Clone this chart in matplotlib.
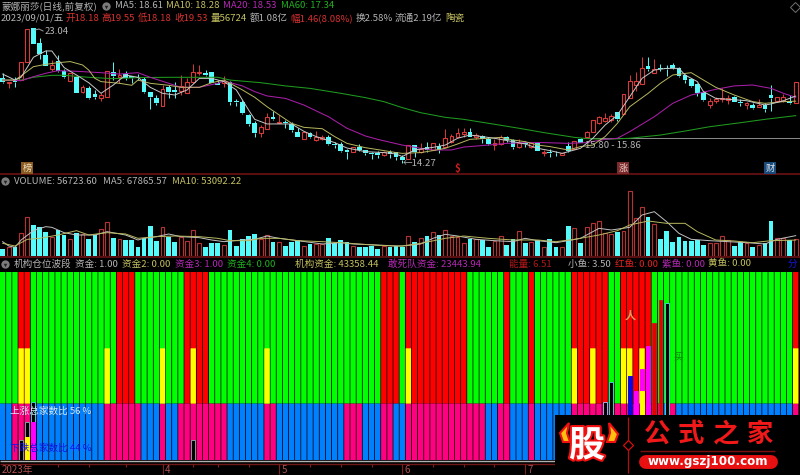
import matplotlib
matplotlib.use('Agg')
import matplotlib.pyplot as plt
import matplotlib.patheffects as pe

plt.rcParams['font.family'] = ['Noto Sans CJK SC', 'DejaVu Sans']

W, H = 800, 475

# 日K线
opens = [19.76,19.44,19.65,19.65,20.80,23.00,22.04,21.28,20.35,20.89,
         20.24,19.61,19.87,18.90,19.16,18.75,18.46,18.57,20.15,19.83,
         20.04,19.92,19.87,19.70,18.90,18.49,17.99,19.18,19.01,18.96,
         18.83,19.55,20.09,20.09,20.15,19.48,19.44,19.55,18.31,18.23,
         17.40,16.88,16.19,16.47,17.23,16.84,16.95,16.80,16.30,15.85,
         16.24,15.76,15.80,15.98,15.50,15.48,15.11,14.98,15.33,15.11,
         14.94,14.94,14.78,15.00,14.96,14.68,14.50,15.41,14.98,15.33,
         15.11,15.37,15.33,15.65,15.98,16.15,16.28,15.93,16.04,15.80,
         15.46,15.50,15.98,15.76,15.28,15.59,15.28,15.54,14.94,14.98,
         14.94,14.81,15.39,15.15,15.80,15.93,16.28,16.88,17.01,17.06,
         17.56,17.43,18.46,19.33,19.40,20.56,20.13,20.46,20.41,20.61,
         20.43,20.00,19.70,19.40,18.90,18.03,18.31,18.42,18.38,18.57,
         18.23,18.05,18.05,17.92,18.01,18.68,18.29,18.31,18.31,18.18]
highs = [20.09,19.55,19.83,20.80,22.95,23.04,22.36,21.60,20.95,21.28,
         20.35,20.09,19.92,19.33,19.27,19.01,18.79,20.26,20.80,20.37,
         20.26,19.92,20.04,19.83,18.90,18.68,19.33,19.33,19.55,19.98,
         19.76,20.67,20.63,20.30,20.20,19.65,19.92,19.59,18.40,18.36,
         17.45,17.01,16.73,17.49,17.66,17.38,17.06,16.95,16.52,16.37,
         16.30,16.34,16.08,16.08,15.65,15.65,15.15,15.28,15.50,15.11,
         14.98,15.02,15.07,15.11,15.00,14.78,15.43,15.43,15.54,15.65,
         15.54,15.59,16.45,16.15,16.52,16.56,16.52,16.19,16.08,15.98,
         15.80,16.08,16.04,15.80,15.85,15.67,15.65,15.63,15.11,15.15,
         15.07,14.94,15.65,15.72,15.87,16.37,17.06,17.32,17.49,17.45,
         17.60,18.72,19.98,20.20,21.13,21.13,21.00,20.69,20.61,20.78,
         20.52,20.04,19.72,19.44,18.96,18.46,18.53,19.11,18.70,18.62,
         18.40,18.23,18.18,18.44,18.14,19.33,18.57,18.72,18.68,19.55]
lows = [19.44,19.11,19.18,19.65,20.80,21.99,21.00,20.59,20.26,20.20,
        19.76,19.61,18.79,18.83,18.42,18.42,18.29,18.57,19.65,19.48,
        19.65,19.48,19.65,18.83,17.75,18.03,17.99,18.46,18.46,18.68,
        18.79,19.44,19.98,19.92,19.44,19.31,19.18,18.03,17.97,17.45,
        16.67,15.93,15.98,16.47,17.06,16.84,16.52,16.30,15.93,15.85,
        15.87,15.72,15.76,15.43,15.22,14.98,14.55,14.98,15.07,14.78,
        14.55,14.59,14.72,14.57,14.46,14.27,14.50,14.68,14.89,15.00,
        15.11,14.94,15.28,15.59,15.93,15.98,15.93,15.80,15.54,15.41,
        15.11,15.43,15.65,15.20,15.24,15.28,15.22,15.02,14.72,14.63,
        14.72,14.81,15.00,15.15,15.54,15.87,16.28,16.80,16.95,16.95,
        17.01,17.43,18.46,18.96,19.40,20.26,20.09,20.24,19.92,20.37,
        19.83,19.48,19.22,18.62,18.31,17.82,18.14,18.25,18.07,18.23,
        17.97,17.75,17.75,17.88,17.58,17.66,18.23,18.25,18.10,18.18]
closes = [19.55,19.55,19.50,20.80,22.95,21.99,21.34,20.59,20.63,20.24,
          19.87,20.09,18.83,19.22,18.51,18.53,18.68,20.26,19.92,19.98,
          19.81,19.81,19.76,18.90,18.53,18.14,19.05,18.88,18.85,19.27,
          19.55,20.20,20.17,19.98,19.44,19.35,19.59,18.25,18.25,17.49,
          16.80,16.19,16.62,17.27,17.10,16.95,16.84,16.41,15.98,16.26,
          15.93,15.93,15.98,15.50,15.41,15.07,15.00,15.28,15.11,14.89,
          14.85,14.76,14.98,14.85,14.68,14.46,15.43,15.00,15.15,15.11,
          15.54,15.11,15.87,16.02,16.24,16.28,15.98,16.08,15.80,15.48,
          15.54,15.98,15.76,15.28,15.54,15.48,15.59,15.07,15.00,14.91,
          14.89,14.94,15.07,15.72,15.59,16.30,17.06,17.27,17.17,17.34,
          17.10,18.72,19.59,19.59,20.46,20.37,20.35,20.35,20.37,20.41,
          19.92,19.65,19.27,18.83,18.36,18.31,18.42,18.46,18.51,18.25,
          18.14,18.14,17.82,18.03,17.75,18.46,18.53,18.57,18.14,19.53]

# 均线(从图上读的点)
ma5_idx = [0,2,3,5,7,8,9,10,12,14,16,18,20,22,24,26,28,30,32,34,
           36,38,40,41,43,45,47,49,51,54,56,59,62,64,65,67,70,72,74,76,
           78,80,83,85,87,89,91,94,96,98,100,102,104,106,108,110,111,113,114,116,
           118,121,124,125,127,129]
ma5 = [20.04,19.65,19.83,21.13,21.54,21.54,21.00,20.46,19.98,19.48,
       18.79,19.33,19.98,19.83,19.18,18.79,18.68,19.01,19.76,19.76,
       19.55,19.01,17.71,17.10,16.80,16.80,16.80,16.32,15.98,15.59,
       15.24,15.00,14.94,14.85,14.68,15.11,15.28,15.43,15.87,16.08,
       15.98,15.87,15.65,15.50,15.22,15.07,14.89,15.22,15.87,16.73,
       17.38,18.57,19.76,20.30,20.41,20.41,19.98,19.55,18.90,18.46,
       18.40,18.31,18.03,18.10,18.31,18.61]
ma10_idx = [0,2,3,5,7,9,11,13,14,15,16,19,21,22,24,27,29,32,34,36,
            39,41,43,45,47,49,52,54,56,59,62,64,65,68,70,72,74,76,79,81,
            83,85,87,89,92,94,96,98,100,102,105,107,109,112,114,116,119,122,124,127,129]
ma10 = [19.65,19.65,19.92,20.52,20.67,20.78,20.85,20.63,20.30,19.76,
        19.55,19.44,19.31,19.65,19.44,19.31,19.18,19.18,19.48,19.65,
        19.01,18.53,17.92,17.38,16.84,16.58,16.49,15.98,15.54,15.26,
        15.07,14.94,14.89,14.94,15.07,15.22,15.50,15.80,15.87,15.93,
        15.76,15.65,15.43,15.33,15.11,15.33,15.43,15.98,16.84,17.92,
        18.79,19.44,19.98,20.13,19.65,19.18,18.68,18.25,18.14,18.25,18.28]
ma20_idx = [0,3,5,7,9,12,16,19,22,24,27,29,32,35,36,39,41,43,46,49,
            53,56,59,61,65,68,70,73,75,79,82,85,88,92,95,98,100,102,106,109,
            112,116,119,122,125,127,129]
ma20 = [19.65,19.61,19.87,20.09,20.26,20.22,20.13,20.04,20.13,19.83,
        19.44,19.18,19.18,19.44,19.59,19.27,18.90,18.62,18.46,18.03,
        17.27,16.52,16.02,15.80,15.43,15.22,15.11,15.11,15.30,15.43,
        15.54,15.59,15.59,15.54,15.59,15.80,15.87,16.30,17.27,18.14,
        18.68,19.05,19.27,19.33,19.11,18.79,18.53]
ma60_idx = [0,3,5,8,10,14,18,22,27,31,35,37,42,46,50,55,59,62,65,68,
            72,75,80,84,88,93,95,98,102,107,111,115,120,124,129]
ma60 = [19.65,19.65,19.83,19.96,19.96,19.83,19.74,19.81,19.83,19.83,
        19.83,19.65,19.48,19.27,19.11,18.79,18.51,18.25,17.86,17.53,
        17.23,17.10,16.78,16.52,16.24,15.93,15.85,15.80,15.87,16.08,
        16.34,16.62,16.88,17.10,17.34]

# 成交量
vol = [23350,31140,28910,75620,131220,102300,95630,81180,64500,86740,
       70060,55600,77840,73390,55600,70060,88960,112310,60050,55600,
       53380,53380,31140,58940,100080,51150,95630,62270,47820,64500,
       50040,86740,44480,31140,42260,42260,36700,86740,33360,55600,
       66720,73390,55600,70060,47820,47820,33360,45590,53380,33360,
       40030,40030,40030,58940,42260,53380,47820,33360,31140,28910,
       33360,23350,33360,28910,33360,
       31140,66720,46700,58940,66720,
       81180,70060,86740,66720,62270,
       44480,55600,55600,53380,28910,
       51150,66720,37810,57820,82290,
       44480,47820,53380,28910,55600,
       31140,31140,100080,92300,42260,
       95630,111200,116760,75620,73390,
       80060,84510,217950,125660,162350,
       128990,106750,57820,82290,47820,
       64500,51150,51150,53380,36700,
       44480,44480,66720,53380,33360,
       47820,42260,31140,36700,42260,
       117870,58940,58940,53380,56724]
vma5_idx = [0,1,2,3,5,7,8,10,12,14,15,17,20,22,23,25,27,29,32,34,
            36,39,41,43,45,48,52,55,57,61,64,65,68,70,72,74,77,80,83,85,
            87,90,92,94,97,99,102,104,106,108,110,112,115,118,121,124,126,129]
vma5 = [47820,33360,28910,53380,84510,97860,95630,77840,70060,70060,
        70060,81180,70060,53380,58940,64500,73390,64500,61160,53380,
        47820,53380,55600,66720,58940,51150,40030,44480,40030,36700,
        33360,33360,40030,58940,72280,66720,55600,51150,47820,58940,
        51150,44480,51150,58940,92300,86740,95630,136780,147900,114540,
        75620,55600,51150,47820,44480,40030,55600,67866]
vma10_idx = [0,2,4,6,9,12,14,17,20,22,25,28,32,35,37,40,42,45,48,52,
             55,58,61,64,65,68,72,75,79,83,87,90,93,97,100,102,105,108,111,113,
             116,119,122,125,129]
vma10 = [42260,33360,55600,58940,70060,84510,70060,77840,73390,58940,
         64500,66720,64500,58940,51150,51150,58940,58940,51150,47820,
         44480,40030,35580,33360,33360,42260,58940,66720,58940,53380,
         53380,47820,55600,70060,84510,103420,116760,108980,108980,81180,
         53380,50040,44480,51150,53092]

# 机构仓位波段
red_idx = [3,4,19,20,21,30,31,32,33,62,63,64,66,67,68,69,70,71,72,73,74,75,82,86,
           93,94,95,96,97,98,101,102,103,104,105,129]
yellow_idx = [3,4,17,26,31,43,66,93,96,101,102,104,129]
pink_idx = [2,3,4,5,17,18,19,20,21,22,26,29,30,31,32,33,34,35,36,43,44,56,57,58,62,63,
            66,67,68,69,70,71,72,73,74,75,76,77,78,81,82,86,93,94,95,96,97,98,99,100,
            101,102,103,104,105,106,107,109,129]
band_top, band_split, band_yellow = 100, 30, 59.4
over_idx = [3,4,4,5,5,31,98,99,102,103,104,104,105,106,107,108]
over_bottom = [0,12.4,0,20.4,0,0,0,0,0,0,36.7,0,0,0,0,0]
over_top = [10.6,20.4,12.4,31,20.4,10.6,31,41.7,44.7,36.7,48.4,36.7,60.6,72.7,85,83.3]
over_color = ['#000000','#000000','#ffff00','#000000','#ff00ff','#000000','#000000','#000000',
              '#0808e0','#ff00ff','#ff00ff','#ffff00','#ff00ff','#e80000','#e80000','#000000']
over_edge = ['#8a9aa0','#8a9aa0','#ffff00','#40d0d0','#ff00ff','#8a9aa0','#b0a0e0','#40d0d0',
             '#0808e0','#ff00ff','#ff00ff','#ffff00','#ff00ff','#c02020','#c02020','#40d0d0']

tick_idx = [9,14,20,26,31,35,40,45,50,55,60,65,70,75,80,85]
month_idx = [26,45,65,85]
month_labels = ['4','5','6','7']

n = len(closes)
xs = list(range(n))
x_lim = (-0.434, 129.7)
bg = '#000000'
up = '#d83a3a'
down = '#55fbfb'


def panel(top, bottom):
    ax = fig.add_axes([0, 1 - bottom / H, 1, (bottom - top) / H], facecolor=bg)
    ax.set_xlim(*x_lim)
    ax.set_axis_off()
    return ax


fig = plt.figure(figsize=(8, 4.75), dpi=100, facecolor=bg)

# K线图
ax1 = panel(0, 174)
ax1.set_ylim(13.55, 24.85)
for i in xs:
    o, h, l, c = opens[i], highs[i], lows[i], closes[i]
    col = up if c >= o else down
    ax1.vlines(i, max(o, c), h, color=col, lw=0.7, zorder=2)
    ax1.vlines(i, l, min(o, c), color=col, lw=0.7, zorder=2)
    if c >= o:
        ax1.bar(i, c - o, bottom=o, width=0.62, facecolor=bg, edgecolor=col, lw=0.8, zorder=2)
    else:
        ax1.bar(i, o - c, bottom=c, width=0.76, color=col, lw=0, zorder=2)
ax1.plot(ma60_idx, ma60, color='#1f9a1f', lw=0.75, zorder=3)
ax1.plot(ma20_idx, ma20, color='#a81ea8', lw=0.75, zorder=3)
ax1.plot(ma10_idx, ma10, color='#b8b860', lw=0.7, zorder=3)
ax1.plot(ma5_idx, ma5, color='#c8c8c8', lw=0.7, zorder=3)
ax1.hlines(15.86, 94.5, x_lim[1], color='#8c8c8c', lw=0.7, zorder=1)

# 成交量
ax2 = panel(174, 256)
ax2.set_ylim(0, 273552)
for i in xs:
    if closes[i] >= opens[i]:
        ax2.bar(i, vol[i], width=0.62, facecolor=bg, edgecolor='#b03434', lw=0.85)
    else:
        ax2.bar(i, vol[i], width=0.76, color=down, lw=0)
ax2.plot(vma5_idx, vma5, color='#c0c0c0', lw=0.7)
ax2.plot(vma10_idx, vma10, color='#b8b860', lw=0.7)

# 色块指标,snap关掉让缝隙宽度一致
ax3 = panel(272, 460)
ax3.set_ylim(0, band_top)
for i in xs:
    top_col = '#ff0000' if i in red_idx else '#00ff00'
    low_col = '#ff0080' if i in pink_idx else '#0080ff'
    ax3.bar(i, band_top - band_split, bottom=band_split, width=0.88, color=top_col, lw=0, snap=False)
    ax3.bar(i, band_split, width=0.88, color=low_col, lw=0, snap=False)
    if i in yellow_idx:
        ax3.bar(i, band_yellow - band_split, bottom=band_split, width=0.88, color='#ffff00', lw=0, snap=False)
for i, b, t_, c, e in zip(over_idx, over_bottom, over_top, over_color, over_edge):
    ax3.bar(i, t_ - b, bottom=b, width=0.62, facecolor=c, edgecolor=e, lw=0.7, zorder=3)

# 时间轴
ax4 = panel(460, 475)
ax4.set_ylim(475, 460)
ax4.hlines(460.5, *x_lim, color='#b0b0b0', lw=1)
ax4.hlines(464, *x_lim, color='#701818', lw=1)
ax4.vlines(tick_idx, 464, 467, color='#802020', lw=0.8)
ax4.vlines(month_idx, 464, 474, color='#802020', lw=0.8)
for i, s in zip(month_idx, month_labels):
    ax4.text(i + 0.4, 470, s, color='#b05050', fontsize=7, va='center')
ax4.text(-0.1, 470, '2023年', color='#b05050', fontsize=7, va='center')

# 叠加层:文字和装饰,用像素坐标
ov = fig.add_axes([0, 0, 1, 1], facecolor='none')
ov.set_xlim(0, W)
ov.set_ylim(H, 0)
ov.set_axis_off()
ov.hlines([174, 257], 0, W, color='#5c1010', lw=1.4)


def t(x, y, s, color='#b4b4b4', size=6.9, **kw):
    ov.text(x, y, s, color=color, fontsize=size, va='center', ha=kw.pop('ha', 'left'), **kw)


def icon(x, y):
    ov.plot(x, y, 'o', ms=6, color='#7c7c7c', mew=0)
    ov.plot(x, y + 0.5, 'v', ms=2.5, color='#222222', mew=0)


yel = '#c4c060'
mag = '#b428b4'
grn = '#20b020'
red = '#d83030'

t(2, 6, '蒙娜丽莎(日线,前复权)')
icon(106, 6)
t(115, 6, 'MA5: 18.61')
t(166, 6, 'MA10: 18.28', yel)
t(223, 6, 'MA20: 18.53', mag)
t(281, 6, 'MA60: 17.34', grn)

t(1, 18, '2023/09/01/五')
t(65, 18, '开18.18', red)
t(101, 18, '高19.55', red)
t(138, 18, '低18.18', red)
t(174, 18, '收19.53', red)
t(211, 18, '量56724', yel)
t(250, 18, '额1.08亿')
t(290, 18, '幅1.46(8.08%)', red)
t(356, 18, '换2.58%')
t(395, 18, '流通2.19亿')
t(445, 18, '陶瓷', yel)
ov.plot(795, 7, 'D', ms=5, mfc='none', mec='#707070', mew=0.7)

ov.plot([35, 39, 43], [30, 29, 31], color='#a0a0a0', lw=0.7)
t(45, 32, '23.04')
t(403, 163, '←14.27')
t(585, 146, '15.80 - 15.86')

for x, s, fc, tc in [(27, '榜', '#8a5a20', '#f0e0c0'), (623, '涨', '#7a2a2a', '#f0d0d0'),
                     (770, '财', '#1a4a7a', '#e0e8f0')]:
    ov.text(x, 168, s, color=tc, fontsize=6.6, ha='center', va='center',
            bbox=dict(boxstyle='square,pad=0.15', fc=fc, ec='none'))
t(457, 169, '$', '#d02020', 7, ha='center', weight='bold')

icon(5, 181)
t(14, 181, 'VOLUME: 56723.60')
t(103, 181, 'MA5: 67865.57')
t(172, 181, 'MA10: 53092.22', yel)

icon(5, 264)
t(14, 264, '机构仓位波段')
t(75, 264, '资金: 1.00')
t(122, 264, '资金2: 0.00', yel)
t(175, 264, '资金3: 1.00', mag)
t(227, 264, '资金4: 0.00', grn)
t(295, 264, '机构资金: 43358.44', yel)
t(388, 264, '敢死队资金: 23443.94', mag)
t(509, 264, '能量: 6.51', '#b01818')
t(568, 264, '小鱼: 3.50')
t(615, 264, '红鱼: 0.00', '#e02020')
t(662, 264, '紫鱼: 0.00', mag)
t(708, 264, '黄鱼: 0.00', yel)
t(788, 264, '分', '#1414e0')

t(10, 411, '上涨总家数比 56 %', '#d8e8f8')
t(10, 448, '下跌总家数比 44 %', '#1414e0')
t(630, 315, '人', '#e0a060', 8, ha='center', weight='bold')
t(678, 356, '买', '#0a8a0a', 7, ha='center')

# 水印
ov.fill_between([555, W], 415, H, color='#000000', lw=0, zorder=5)
ov.fill([569, 560, 563, 570, 567], [423, 433, 442, 442, 433], fc='#ffc010', ec='#f01010', lw=1.5, zorder=6)
ov.fill([609, 618, 615, 607, 610], [423, 434, 442, 442, 433], fc='#ffc010', ec='#f01010', lw=1.5, zorder=6)
ov.text(587, 446, '股', color='#ffffff', fontsize=26, weight='bold', ha='center', va='center', zorder=7,
        path_effects=[pe.withStroke(linewidth=3, foreground='#f01010')])
ov.vlines(628, 417, 473, color='#b01010', lw=0.9, zorder=6)
ov.plot(628, 445, 'D', ms=5.5, mfc='#000000', mec='#d01010', mew=0.9, zorder=7)
for x, s in zip([657, 691, 726, 760], '公式之家'):
    ov.text(x, 434, s, color='#f01818', fontsize=19, weight='bold', ha='center', va='center', zorder=6)
ov.hlines(451, 640, 775, color='#801010', lw=1, zorder=6)
ov.plot([646, 771], [462, 462], color='#e81010', lw=10, solid_capstyle='round', zorder=6)
ov.text(708, 462, 'www.gszj100.com', color='#ffffff', fontsize=8.6, weight='bold',
        family='DejaVu Sans', ha='center', va='center', zorder=7)

fig.savefig('out.png', dpi=100, facecolor=bg)
